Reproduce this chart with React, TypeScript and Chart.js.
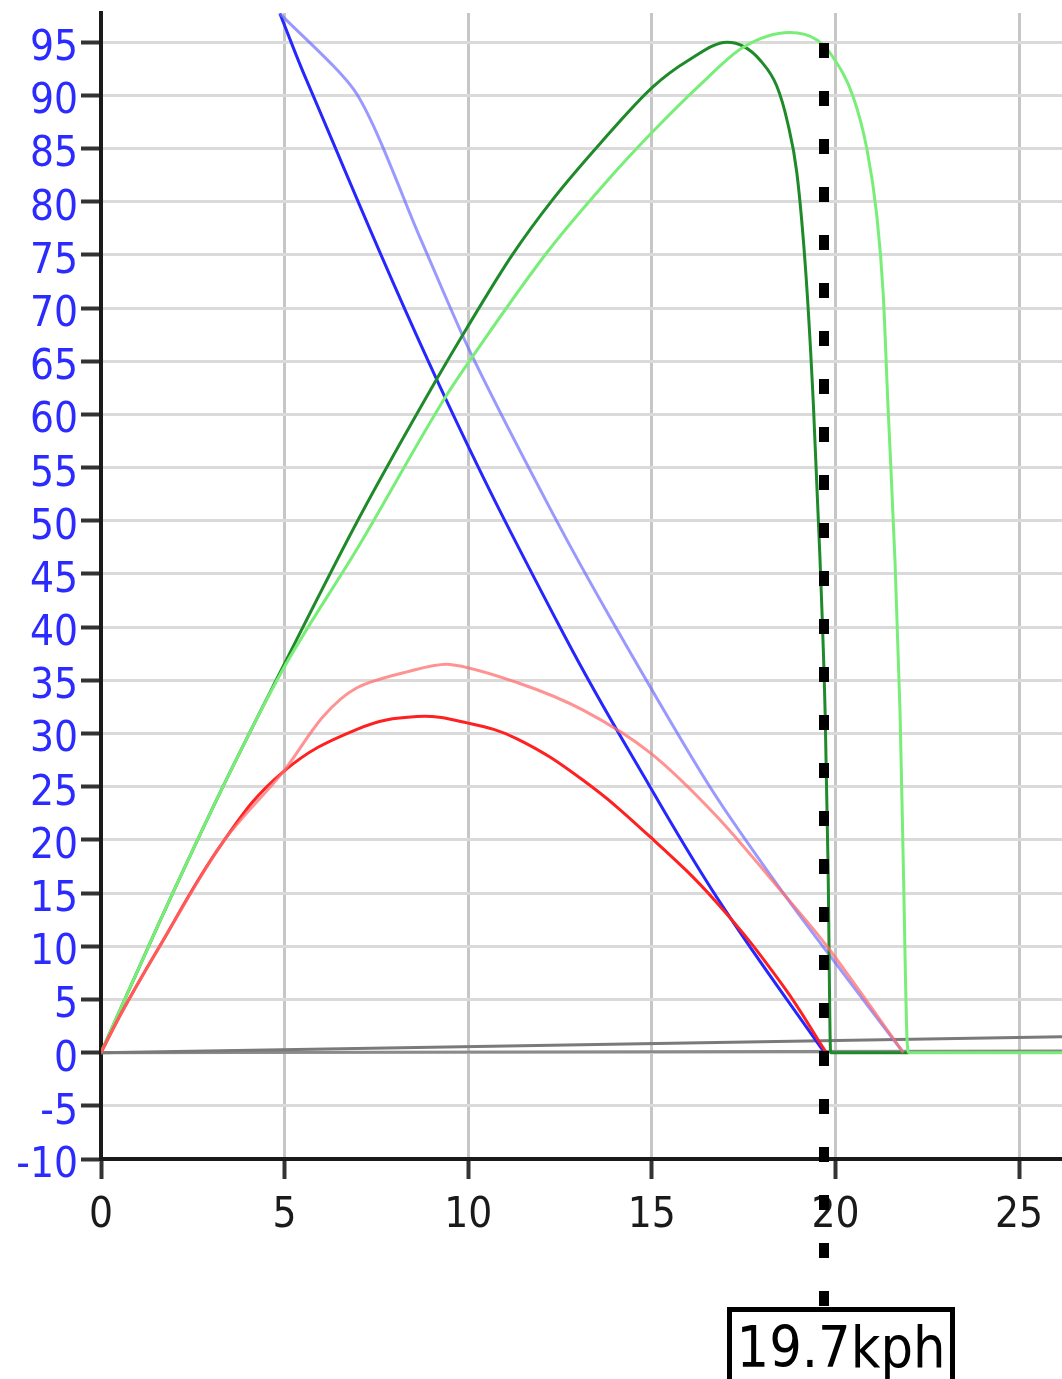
import React, { useEffect, useRef } from 'react';
import { Chart, registerables } from 'chart.js';

Chart.register(...registerables);

// Axis ranges and ticks
const xMin = 0;
const xMax = 26.17;
const yMin = -10;
const yMax = 97.74;
const xStep = 5;
const yStep = 5;

// Marker
const markerSpeed = 19.7;
const markerLabel = '19.7kph';

// Series (x in kph, y value)
const darkBlueX = [4.87, 5.6, 9.14, 12.59, 14.95, 16.94, 19.7];
const darkBlueY = [97.7, 91.4, 63.3, 39.4, 25.0, 13.7, 0];

const lightBlueX = [4.87, 6.97, 8.69, 10.05, 12.3, 13.95, 16.58, 18.58, 20.4, 21.85];
const lightBlueY = [97.7, 90.1, 76.6, 65.9, 50.7, 40.4, 25.0, 15.0, 6.6, 0];

const darkGreenX = [0, 1.53, 3.32, 4.9, 7.05, 9.14, 9.96, 11.2, 12.3, 13.6, 15.03, 16.0, 17.05, 17.5, 17.95, 18.4, 18.7, 18.95, 19.2, 19.4, 19.58, 19.72, 19.8, 19.87, 22.0];
const darkGreenY = [0, 11.8, 25.0, 35.9, 50.4, 63.3, 68.1, 75.0, 80.2, 85.5, 90.8, 93.3, 95.0, 94.6, 93.3, 90.9, 87.4, 82.7, 73.0, 60.9, 46.4, 31.9, 17.4, 0, 0];

const lightGreenX = [0, 1.53, 3.32, 4.9, 7.05, 9.41, 10.13, 12.14, 13.95, 15.03, 16.35, 17.48, 18.76, 19.5, 19.93, 20.48, 20.86, 21.13, 21.3, 21.43, 21.62, 21.76, 21.85, 21.95, 22.0, 26.2];
const lightGreenY = [0, 11.8, 25.0, 35.7, 47.8, 61.8, 65.5, 75.2, 82.6, 86.6, 91.1, 94.5, 95.9, 95.2, 93.6, 89.9, 84.9, 78.6, 71.4, 60.9, 46.4, 31.9, 17.4, 1.3, 0, 0];

const redX = [0, 0.6, 1.53, 3.32, 4.96, 6.97, 8.6, 9.97, 11.33, 13.13, 14.95, 16.77, 18.57, 19.75];
const redY = [0, 4.0, 9.6, 19.8, 26.4, 30.4, 31.6, 31.0, 29.5, 25.6, 20.3, 14.1, 6.3, 0];

const lightRedX = [0, 0.6, 1.53, 3.32, 4.96, 6.05, 6.97, 8.33, 9.5, 11.33, 13.13, 14.95, 16.77, 18.57, 19.77, 21.85];
const lightRedY = [0, 4.0, 9.6, 19.8, 26.4, 31.6, 34.3, 35.8, 36.5, 34.8, 32.2, 28.2, 22.2, 15.0, 10.0, 0];

const grayAX = [0, 26.2];
const grayAY = [0, 1.5];
const grayBX = [0, 26.2];
const grayBY = [0, 0.15];

const FONT = '"DejaVu Sans Condensed", "DejaVu Sans", sans-serif';

function pts(xs: number[], ys: number[]) {
  return xs.map((x, i) => ({ x, y: ys[i] }));
}

const markerPlugin = {
  id: 'speedMarker',
  afterDraw(chart: any) {
    const { ctx, chartArea, scales } = chart;
    const x = Math.round(scales.x.getPixelForValue(markerSpeed));
    const boxTop = 1307;
    ctx.save();
    ctx.strokeStyle = '#000';
    ctx.lineWidth = 10;
    ctx.setLineDash([15, 33]);
    ctx.lineDashOffset = 18;
    ctx.beginPath();
    ctx.moveTo(x, chartArea.top);
    ctx.lineTo(x, boxTop);
    ctx.stroke();
    ctx.setLineDash([]);
    const left = x - 97;
    const w = 228;
    ctx.fillStyle = '#fff';
    ctx.fillRect(left, boxTop, w, 120);
    ctx.lineWidth = 5;
    ctx.strokeRect(left + 2.5, boxTop + 2.5, w - 5, 120);
    ctx.fillStyle = '#000';
    ctx.font = `57px ${FONT}`;
    ctx.textAlign = 'center';
    ctx.textBaseline = 'alphabetic';
    ctx.fillText(markerLabel, left + w / 2, 1367);
    ctx.restore();
  },
};

export default function App() {
  const ref = useRef<HTMLCanvasElement | null>(null);

  useEffect(() => {
    if (!ref.current) return;
    const ds = (label: string, xs: number[], ys: number[], color: string, mode: 'monotone' | number, width = 3) => ({
      label,
      data: pts(xs, ys),
      borderColor: color,
      backgroundColor: color,
      borderWidth: width,
      pointRadius: 0,
      fill: false,
      ...(mode === 'monotone'
        ? { cubicInterpolationMode: 'monotone' as const }
        : { cubicInterpolationMode: 'default' as const, tension: mode }),
    });
    const chart = new Chart(ref.current, {
      type: 'line',
      data: {
        datasets: [
          ds('light red', lightRedX, lightRedY, 'rgba(255,110,110,0.75)', 0.3),
          ds('red', redX, redY, '#ff2020', 0.4),
          ds('light green', lightGreenX, lightGreenY, '#78ee78', 'monotone'),
          ds('dark green', darkGreenX, darkGreenY, '#1f8a2a', 'monotone'),
          ds('light blue', lightBlueX, lightBlueY, 'rgba(110,110,255,0.7)', 0.25),
          ds('dark blue', darkBlueX, darkBlueY, '#2626ff', 0.4),
          ds('gray a', grayAX, grayAY, '#7a7a7a', 0),
          ds('gray b', grayBX, grayBY, '#8a8a8a', 0),
        ],
      },
      options: {
        animation: false,
        responsive: false,
        maintainAspectRatio: false,
        layout: { padding: { top: 13, left: 0, right: 0, bottom: 0 } },
        plugins: { legend: { display: false }, tooltip: { enabled: false } },
        scales: {
          x: {
            type: 'linear',
            min: xMin,
            max: xMax,
            ticks: {
              stepSize: xStep,
              includeBounds: false,
              autoSkip: false,
              maxRotation: 0,
              color: '#1a1a1a',
              padding: 12,
              font: { family: FONT, size: 42 },
            },
            grid: { color: '#c6c6c6', lineWidth: 3, tickLength: 20, tickColor: '#333', tickWidth: 4 },
            border: { display: true, color: '#1a1a1a', width: 4 },
            afterFit: (s: any) => {
              s.height = 220;
              s.paddingLeft = 0;
              s.paddingRight = 0;
            },
          },
          y: {
            type: 'linear',
            min: yMin,
            max: yMax,
            ticks: {
              stepSize: yStep,
              includeBounds: false,
              autoSkip: false,
              color: '#2b2bff',
              padding: 3,
              labelOffset: 7,
              font: { family: FONT, size: 42 },
            },
            grid: { color: '#dadada', lineWidth: 3, tickLength: 20, tickColor: '#333', tickWidth: 4 },
            border: { display: true, color: '#1a1a1a', width: 4 },
            afterFit: (s: any) => {
              s.width = 101;
              s.paddingTop = 0;
              s.paddingBottom = 0;
            },
          },
        },
      },
      plugins: [markerPlugin],
    } as any);
    return () => chart.destroy();
  }, []);

  return (
    <div style={{ position: 'fixed', left: 0, top: 0, width: 1062, height: 1379, background: '#fff' }}>
      <canvas ref={ref} width={1062} height={1379} style={{ width: 1062, height: 1379, display: 'block' }} />
    </div>
  );
}
